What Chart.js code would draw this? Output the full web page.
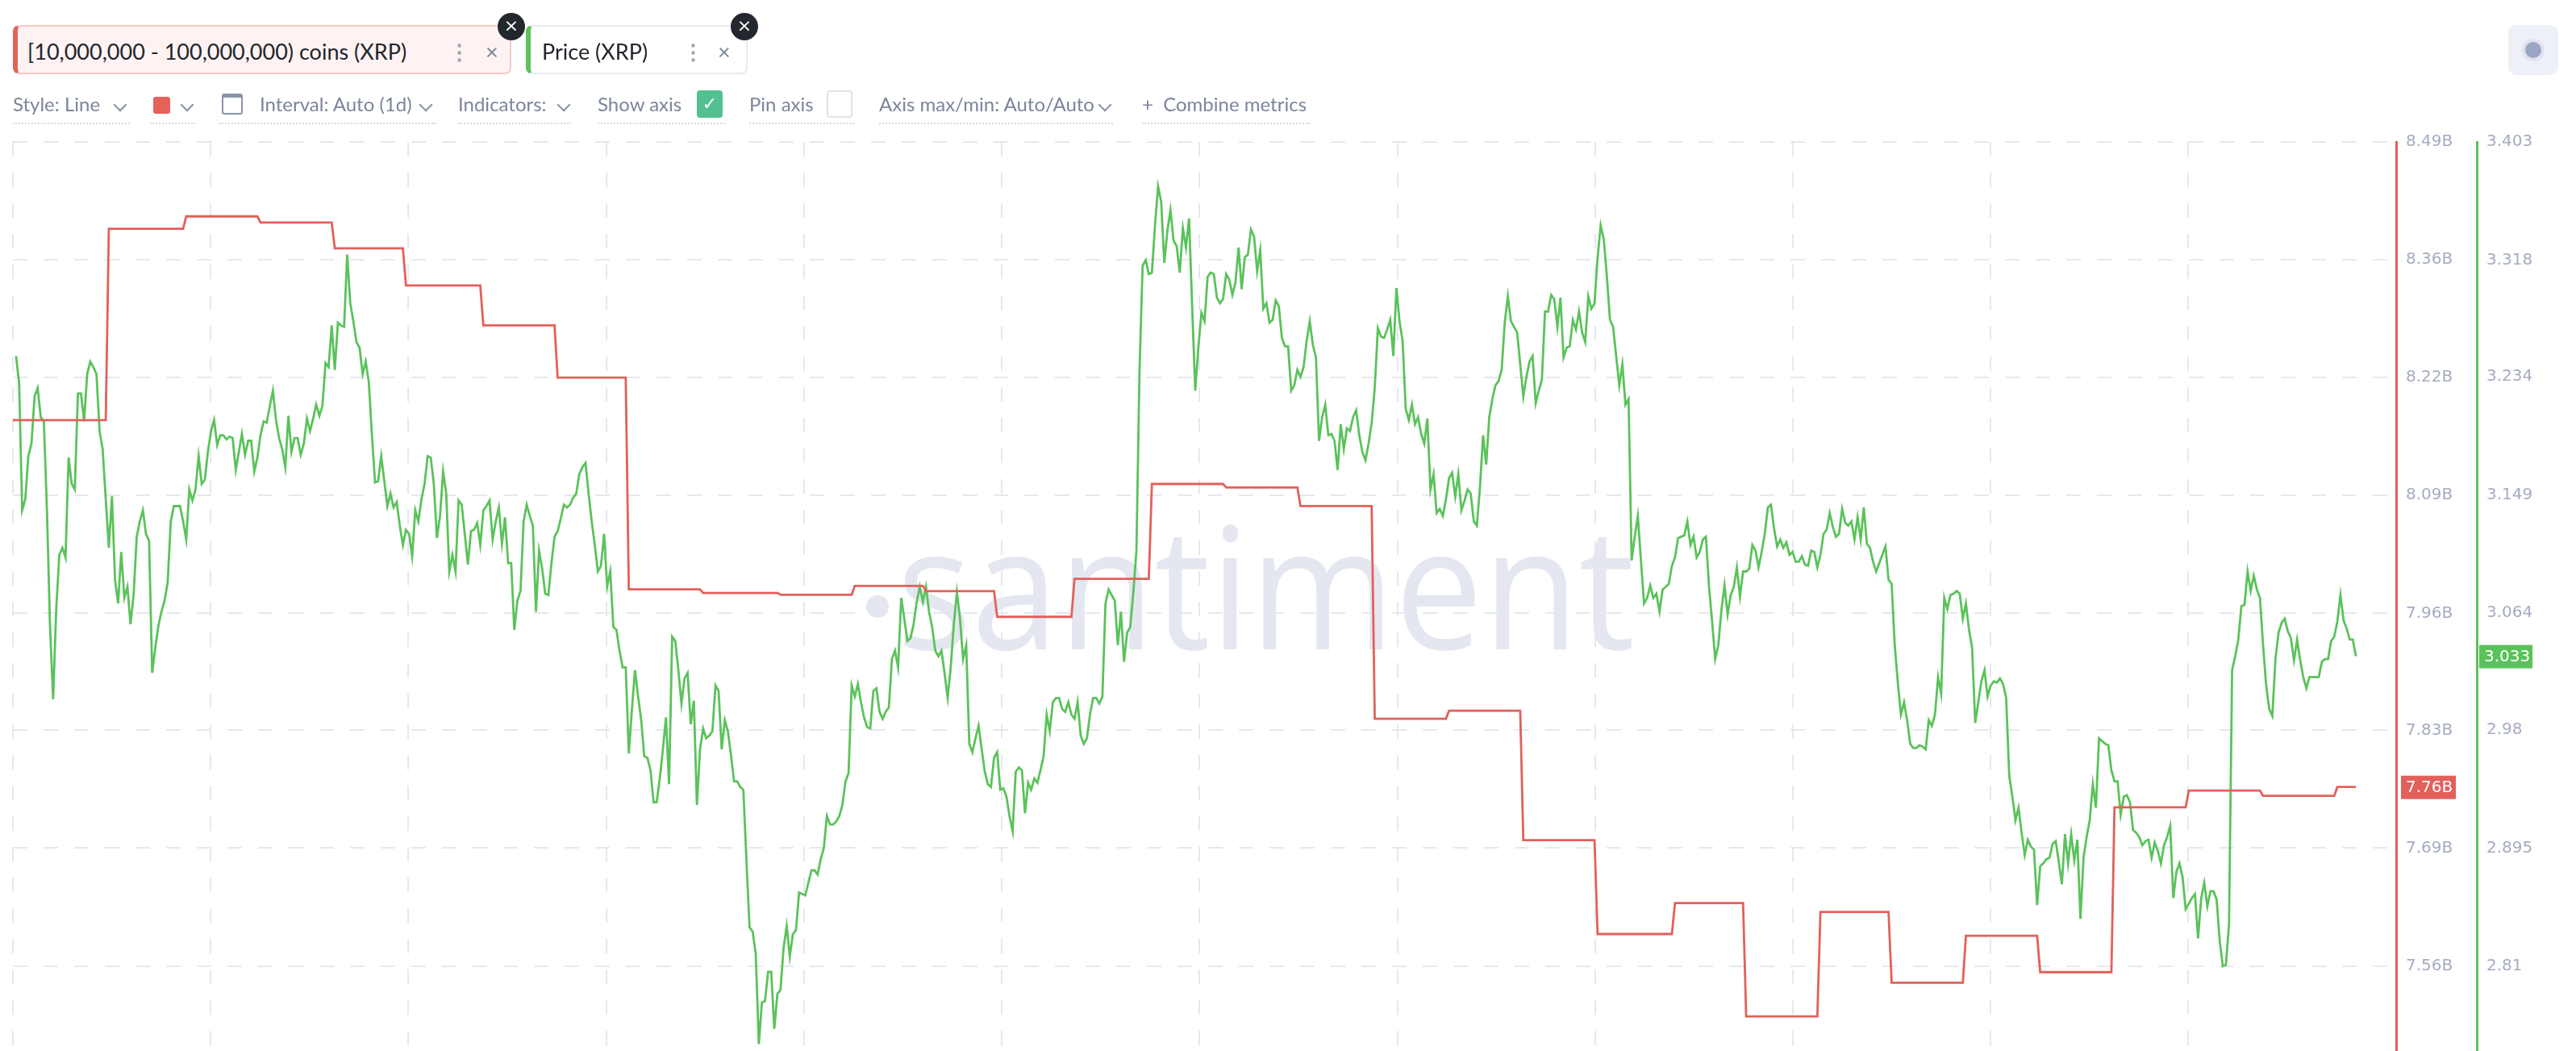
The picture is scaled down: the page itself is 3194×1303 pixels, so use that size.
<!DOCTYPE html>
<html>
<head>
<meta charset="utf-8">
<script src="https://cdn.jsdelivr.net/npm/chart.js@4"></script>
<style>
  body { margin:0; width:3194px; height:1303px; background:#fff; overflow:hidden; font-family:Lato, "Open Sans", sans-serif; position:relative; }
  #c { position:absolute; left:0; top:0; }
  .pill { position:absolute; top:31px; height:61px; box-sizing:border-box; border-radius:8px; font-size:27px; color:#22262c; }
  .pill span { position:absolute; top:14px; }
  .dots { color:#9aa1b3; font-weight:bold; }
  .x { color:#7d8699; }
  .close { position:absolute; top:16px; width:34px; height:34px; border-radius:17px; background:#23282e; color:#fff; font-size:22px; line-height:32px; text-align:center; font-family:"DejaVu Sans"; }
  .tb { position:absolute; top:114px; font-size:24px; color:#7b859c; white-space:nowrap; }
  .ul { position:absolute; top:152px; height:0; border-top:2px dotted #d6dae4; }
  .chev { position:absolute; top:124px; width:10px; height:10px; border-right:2px solid #8a93a8; border-bottom:2px solid #8a93a8; transform:rotate(45deg); }
</style>
</head>
<body>
<canvas id="c" width="3194" height="1327"></canvas>

<div class="pill" style="left:16px;width:618px;background:#fef3f2;border:2px solid #f5c9c5;border-left:6px solid #e5625b;">
  <span style="left:12px">[10,000,000 - 100,000,000) coins (XRP)</span>
  <span class="dots" style="left:534px">⋮</span>
  <span class="x" style="left:580px">×</span>
</div>
<div class="close" style="left:617px">×</div>
<div class="pill" style="left:652px;width:275px;background:#fff;border:2px solid #e9eaf0;border-left:6px solid #5cc25c;">
  <span style="left:14px">Price (XRP)</span>
  <span class="dots" style="left:188px">⋮</span>
  <span class="x" style="left:232px">×</span>
</div>
<div class="close" style="left:906px">×</div>

<div class="tb" style="left:16px">Style: Line</div><div class="chev" style="left:143px"></div><div class="ul" style="left:16px;width:145px"></div>
<div style="position:absolute;left:190px;top:120px;width:21px;height:21px;border-radius:3px;background:#e5625b"></div><div class="chev" style="left:226px"></div><div class="ul" style="left:186px;width:56px"></div>
<div style="position:absolute;left:275px;top:116px;width:26px;height:26px;border:2px solid #8a93a8;border-radius:3px;box-sizing:border-box;border-top-width:5px"></div>
<div class="tb" style="left:322px">Interval: Auto (1d)</div><div class="chev" style="left:522px"></div><div class="ul" style="left:272px;width:268px"></div>
<div class="tb" style="left:568px">Indicators:</div><div class="chev" style="left:693px"></div><div class="ul" style="left:568px;width:140px"></div>
<div class="tb" style="left:741px">Show axis</div>
<div style="position:absolute;left:864px;top:112px;width:32px;height:34px;border-radius:4px;background:#52c08f;color:#fff;font-size:22px;text-align:center;line-height:34px;font-family:'DejaVu Sans'">✓</div><div class="ul" style="left:741px;width:158px"></div>
<div class="tb" style="left:929px">Pin axis</div>
<div style="position:absolute;left:1025px;top:112px;width:32px;height:34px;border-radius:4px;border:2px solid #dfe2ea;box-sizing:border-box"></div><div class="ul" style="left:929px;width:130px"></div>
<div class="tb" style="left:1090px">Axis max/min: Auto/Auto</div><div class="chev" style="left:1364px"></div><div class="ul" style="left:1090px;width:290px"></div>
<div class="tb" style="left:1416px">+&nbsp;&nbsp;Combine metrics</div><div class="ul" style="left:1416px;width:208px"></div>

<div style="position:absolute;left:3110px;top:31px;width:62px;height:62px;border-radius:10px;background:#eef0f7"></div>
<div style="position:absolute;left:3131px;top:52px;width:20px;height:20px;border-radius:10px;background:#9aa6c4;box-shadow:0 0 0 4px #dfe3ee"></div>

<script>
// XRP price, sampled along the chart
var price = [
3.249,3.230,3.138,3.146,3.177,3.186,3.220,3.226,3.205,3.202,
3.138,3.054,3.002,3.067,3.106,3.111,3.104,3.176,3.157,3.153,
3.222,3.222,3.202,3.236,3.245,3.241,3.236,3.195,3.182,3.146,
3.111,3.148,3.088,3.071,3.108,3.075,3.083,3.056,3.077,3.119,
3.130,3.138,3.121,3.116,3.021,3.039,3.055,3.065,3.073,3.086,
3.130,3.141,3.141,3.141,3.130,3.117,3.153,3.145,3.153,3.177,
3.157,3.160,3.180,3.195,3.203,3.185,3.192,3.192,3.189,3.191,
3.190,3.167,3.180,3.193,3.178,3.188,3.188,3.166,3.176,3.192,
3.202,3.201,3.213,3.224,3.203,3.190,3.182,3.169,3.206,3.180,
3.190,3.190,3.178,3.186,3.204,3.195,3.204,3.214,3.206,3.213,
3.244,3.241,3.271,3.239,3.273,3.271,3.270,3.322,3.287,3.274,
3.259,3.255,3.236,3.245,3.230,3.192,3.158,3.159,3.177,3.159,
3.141,3.150,3.140,3.144,3.127,3.113,3.124,3.121,3.105,3.138,
3.130,3.146,3.157,3.177,3.176,3.157,3.118,3.134,3.166,3.150,
3.094,3.106,3.094,3.145,3.142,3.121,3.099,3.123,3.124,3.129,
3.113,3.138,3.141,3.145,3.117,3.130,3.140,3.114,3.133,3.100,
3.100,3.052,3.073,3.080,3.130,3.142,3.134,3.127,3.065,3.109,
3.096,3.078,3.077,3.100,3.119,3.123,3.132,3.142,3.140,3.142,
3.147,3.150,3.164,3.169,3.172,3.150,3.130,3.113,3.094,3.098,
3.121,3.083,3.094,
3.054,3.052,3.037,3.025,3.025,2.963,2.995,3.023,3.004,2.987,
2.961,2.960,2.951,2.928,2.928,2.945,2.966,2.989,2.941,3.047,
3.044,3.023,2.999,3.017,3.021,2.984,3.001,2.926,2.966,2.981,
2.974,2.976,2.979,3.012,3.008,2.966,2.987,2.979,2.962,2.943,
2.943,2.939,2.937,2.886,2.838,2.835,2.819,2.754,2.784,2.785,
2.806,2.806,2.765,2.790,2.793,2.823,2.839,2.817,2.833,2.836,
2.863,2.862,2.861,2.870,2.879,2.879,2.876,2.887,2.895,2.918,
2.912,2.912,2.914,2.918,2.926,2.943,2.949,3.012,3.004,3.013,
3.000,2.989,2.982,2.981,3.008,3.010,2.993,2.988,2.993,2.996,
3.031,3.037,3.025,3.075,3.060,3.044,3.046,3.056,3.072,3.083,
3.072,3.083,3.065,3.054,3.037,3.033,3.037,3.021,3.003,3.025,
3.056,3.079,3.060,3.031,3.041,2.970,2.964,2.974,2.983,2.966,
2.950,2.941,2.939,2.960,2.964,2.937,2.938,2.932,2.918,2.907,
2.950,2.953,2.951,2.920,2.942,2.937,2.945,2.942,2.951,2.961,
2.991,2.979,3.000,3.003,3.003,2.995,2.993,3.000,2.991,2.988,
3.000,2.976,2.970,2.974,2.991,3.003,3.003,2.999,3.004,3.071,
3.081,3.077,3.073,3.041,3.065,3.029,3.050,3.054,3.079,3.109,
3.239,3.314,3.318,3.308,3.309,3.343,3.371,3.360,3.316,3.339,
3.354,3.332,3.328,3.309,3.341,3.327,3.348,3.285,3.224,3.255,
3.280,3.274,3.306,
3.309,3.308,3.291,3.287,3.290,3.308,3.304,3.293,3.302,3.327,
3.297,3.320,3.322,3.340,3.335,3.310,3.325,3.283,3.287,3.273,
3.275,3.289,3.285,3.262,3.256,3.256,3.224,3.228,3.239,3.234,
3.241,3.260,3.274,3.257,3.248,3.188,3.205,3.214,3.192,3.193,
3.188,3.167,3.200,3.182,3.197,3.195,3.205,3.210,3.192,3.180,
3.174,3.186,3.201,3.226,3.269,3.263,3.262,3.268,3.275,3.249,
3.298,3.274,3.260,3.211,3.203,3.214,3.200,3.205,3.193,3.186,
3.204,3.153,3.164,3.136,3.139,3.134,3.146,3.161,3.165,3.148,
3.164,3.138,3.145,3.153,3.150,3.130,3.127,3.155,3.192,3.171,
3.205,3.218,3.228,3.231,3.239,3.273,3.292,3.274,3.270,3.266,
3.243,3.220,3.234,3.245,3.249,3.215,3.224,3.232,3.281,3.281,
3.293,3.290,3.270,3.291,3.248,3.255,3.256,3.275,3.268,3.281,
3.266,3.259,3.292,3.283,3.287,3.320,3.343,3.333,3.306,3.275,
3.270,3.249,3.228,3.243,3.214,3.218,3.102,3.119,3.134,3.102,
3.071,3.075,3.084,3.075,3.078,3.065,3.081,3.083,3.085,3.098,
3.104,3.118,3.119,3.120,3.130,3.113,3.119,3.104,3.108,3.117,
3.119,3.083,3.058,3.031,3.041,3.066,3.084,3.063,3.077,3.083,
3.097,3.076,3.094,3.094,3.096,3.113,3.109,3.097,3.108,3.121,
3.140,3.142,3.125,3.112,3.117,3.111,3.115,3.106,3.108,3.101,
3.101,3.105,3.099,
3.098,3.109,3.108,3.097,3.106,3.121,3.124,3.136,3.126,3.119,
3.121,3.139,3.129,3.127,3.130,3.117,3.133,3.117,3.140,3.114,
3.111,3.101,3.094,3.100,3.106,3.112,3.088,3.085,3.041,3.014,
2.991,3.000,2.987,2.970,2.967,2.967,2.969,2.968,2.966,2.987,
2.983,2.991,3.018,3.006,3.075,3.067,3.077,3.078,3.080,3.078,
3.060,3.071,3.052,3.039,2.985,3.000,3.015,3.023,3.004,3.012,
3.015,3.014,3.017,3.013,3.003,2.947,2.932,2.915,2.924,2.906,
2.890,2.901,2.896,2.894,2.854,2.882,2.884,2.887,2.888,2.898,
2.900,2.885,2.869,2.905,2.884,2.905,2.886,2.901,2.844,2.888,
2.903,2.915,2.941,2.924,2.974,2.972,2.970,2.969,2.951,2.943,
2.943,2.919,2.932,2.933,2.928,2.908,2.906,2.903,2.897,2.900,
2.901,2.888,2.899,2.893,2.884,2.897,2.903,2.911,2.859,2.878,
2.884,2.874,2.851,2.855,2.859,2.862,2.830,2.859,2.870,2.853,
2.864,2.864,2.858,2.828,2.810,2.811,2.840,3.023,3.033,3.045,
3.069,3.070,3.094,3.080,3.091,3.081,3.075,3.041,3.012,2.995,
2.990,3.031,3.050,3.057,3.060,3.051,3.046,3.030,3.045,3.030,
3.018,3.010,3.018,3.018,3.018,3.018,3.029,3.031,3.031,3.044,
3.047,3.058,3.077,3.059,3.053,3.045,3.045,3.033
];

// supply held by 10M-100M XRP wallets, in billions; each level starts at a sample index
var balanceStart = [-1,29,54,78,102,125,150,174,197,221,246,270,293,316,341,366,
                    390,414,438,462,486,510,535,558,582,605,629,653,677,701,725,749];
var balance = [8.176,8.392,8.406,8.399,8.370,8.328,8.283,8.224,7.985,7.981,7.979,7.989,7.983,7.954,7.997,8.104,
               8.100,8.079,7.839,7.848,7.702,7.596,7.631,7.503,7.621,7.541,7.594,7.553,7.739,7.758,7.752,7.762];

var balanceTicks = [8.49,8.357,8.224,8.091,7.958,7.826,7.693,7.560];
var priceTicks = [3.403,3.318,3.234,3.149,3.064,2.98,2.895,2.81];

var RED = '#e3605a', GREEN = '#5bc25b';

function balancePoints() {
  var pts = [];
  for (var k = 0; k < balance.length; k++) {
    if (k > 0) {
      pts.push({x: balanceStart[k], y: balance[k-1]});
      pts.push({x: balanceStart[k] + 1, y: balance[k]});
    } else {
      pts.push({x: balanceStart[k], y: balance[k]});
    }
  }
  pts.push({x: price.length - 1, y: balance[balance.length-1]});
  return pts;
}

var watermark = {
  id: 'watermark',
  beforeDatasetsDraw: function(chart) {
    var ctx = chart.ctx;
    ctx.save();
    ctx.fillStyle = '#e4e7f0';
    ctx.beginPath();
    ctx.arc(1088, 752, 14, 0, Math.PI*2);
    ctx.fill();
    ctx.font = '210px "Open Sans"';
    ctx.textBaseline = 'alphabetic';
    ctx.fillText('santiment', 1112, 805, 915);
    ctx.restore();
  }
};

var lastValues = {
  id: 'lastValues',
  afterDraw: function(chart) {
    var ctx = chart.ctx;
    var yb = chart.scales.yB, yp = chart.scales.yP;
    var lb = balance[balance.length-1], lp = price[price.length-1];
    ctx.save();
    ctx.font = '20px "DejaVu Sans"';
    ctx.textBaseline = 'middle';
    var y = yb.getPixelForValue(lb);
    ctx.fillStyle = RED;
    ctx.fillRect(yb.left + 6, y - 14, 68, 29);
    ctx.fillStyle = '#fff';
    ctx.fillText(lb.toFixed(2) + 'B', yb.left + 12, y + 1);
    y = yp.getPixelForValue(lp);
    ctx.fillStyle = GREEN;
    ctx.fillRect(yp.left + 3, y - 14, 66, 29);
    ctx.fillStyle = '#fff';
    ctx.fillText(lp.toFixed(3), yp.left + 9, y + 1);
    ctx.restore();
  }
};

new Chart(document.getElementById('c'), {
  type: 'line',
  data: {
    datasets: [{
      label: '[10,000,000 - 100,000,000) coins (XRP)',
      data: balancePoints(),
      borderColor: RED,
      borderWidth: 2.8,
      pointRadius: 0,
      yAxisID: 'yB'
    }, {
      label: 'Price (XRP)',
      data: price.map(function(v, i) { return {x: i, y: v}; }),
      borderColor: GREEN,
      borderWidth: 2.8,
      pointRadius: 0,
      yAxisID: 'yP'
    }]
  },
  options: {
    responsive: false,
    devicePixelRatio: 1,
    animation: false,
    plugins: { legend: { display: false }, tooltip: { enabled: false } },
    layout: { padding: { top: 176, left: 16, right: 0, bottom: 0 } },
    scales: {
      x: {
        type: 'linear', min: -1, max: 769,
        afterBuildTicks: function(s) {
          var t = [];
          for (var k = 0; k < 12; k++) t.push({value: -1 + 63.9 * k});
          s.ticks = t;
        },
        afterFit: function(s) { s.height = 0; },
        ticks: { display: false },
        grid: { color: '#e6e8ef', lineWidth: 2, drawTicks: false },
        border: { display: false, dash: [18, 20] }
      },
      yB: {
        position: 'right', min: 7.464, max: 8.49,
        afterBuildTicks: function(s) { s.ticks = balanceTicks.map(function(v) { return {value: v}; }); },
        afterFit: function(s) { s.width = 100; },
        ticks: {
          callback: function(v) { return v.toFixed(2) + 'B'; },
          color: '#a4acc1', font: { family: 'DejaVu Sans', size: 20 }, padding: 12
        },
        grid: { color: '#e6e8ef', lineWidth: 2, drawTicks: false },
        border: { color: RED, width: 3, dash: [18, 20] }
      },
      yP: {
        position: 'right', min: 2.749, max: 3.403,
        afterBuildTicks: function(s) { s.ticks = priceTicks.map(function(v) { return {value: v}; }); },
        afterFit: function(s) { s.width = 123; },
        ticks: {
          callback: function(v) { return String(v); },
          color: '#a4acc1', font: { family: 'DejaVu Sans', size: 20 }, padding: 12
        },
        grid: { display: false, drawTicks: false },
        border: { color: GREEN, width: 3 }
      }
    }
  },
  plugins: [watermark, lastValues]
});
</script>
</body>
</html>
